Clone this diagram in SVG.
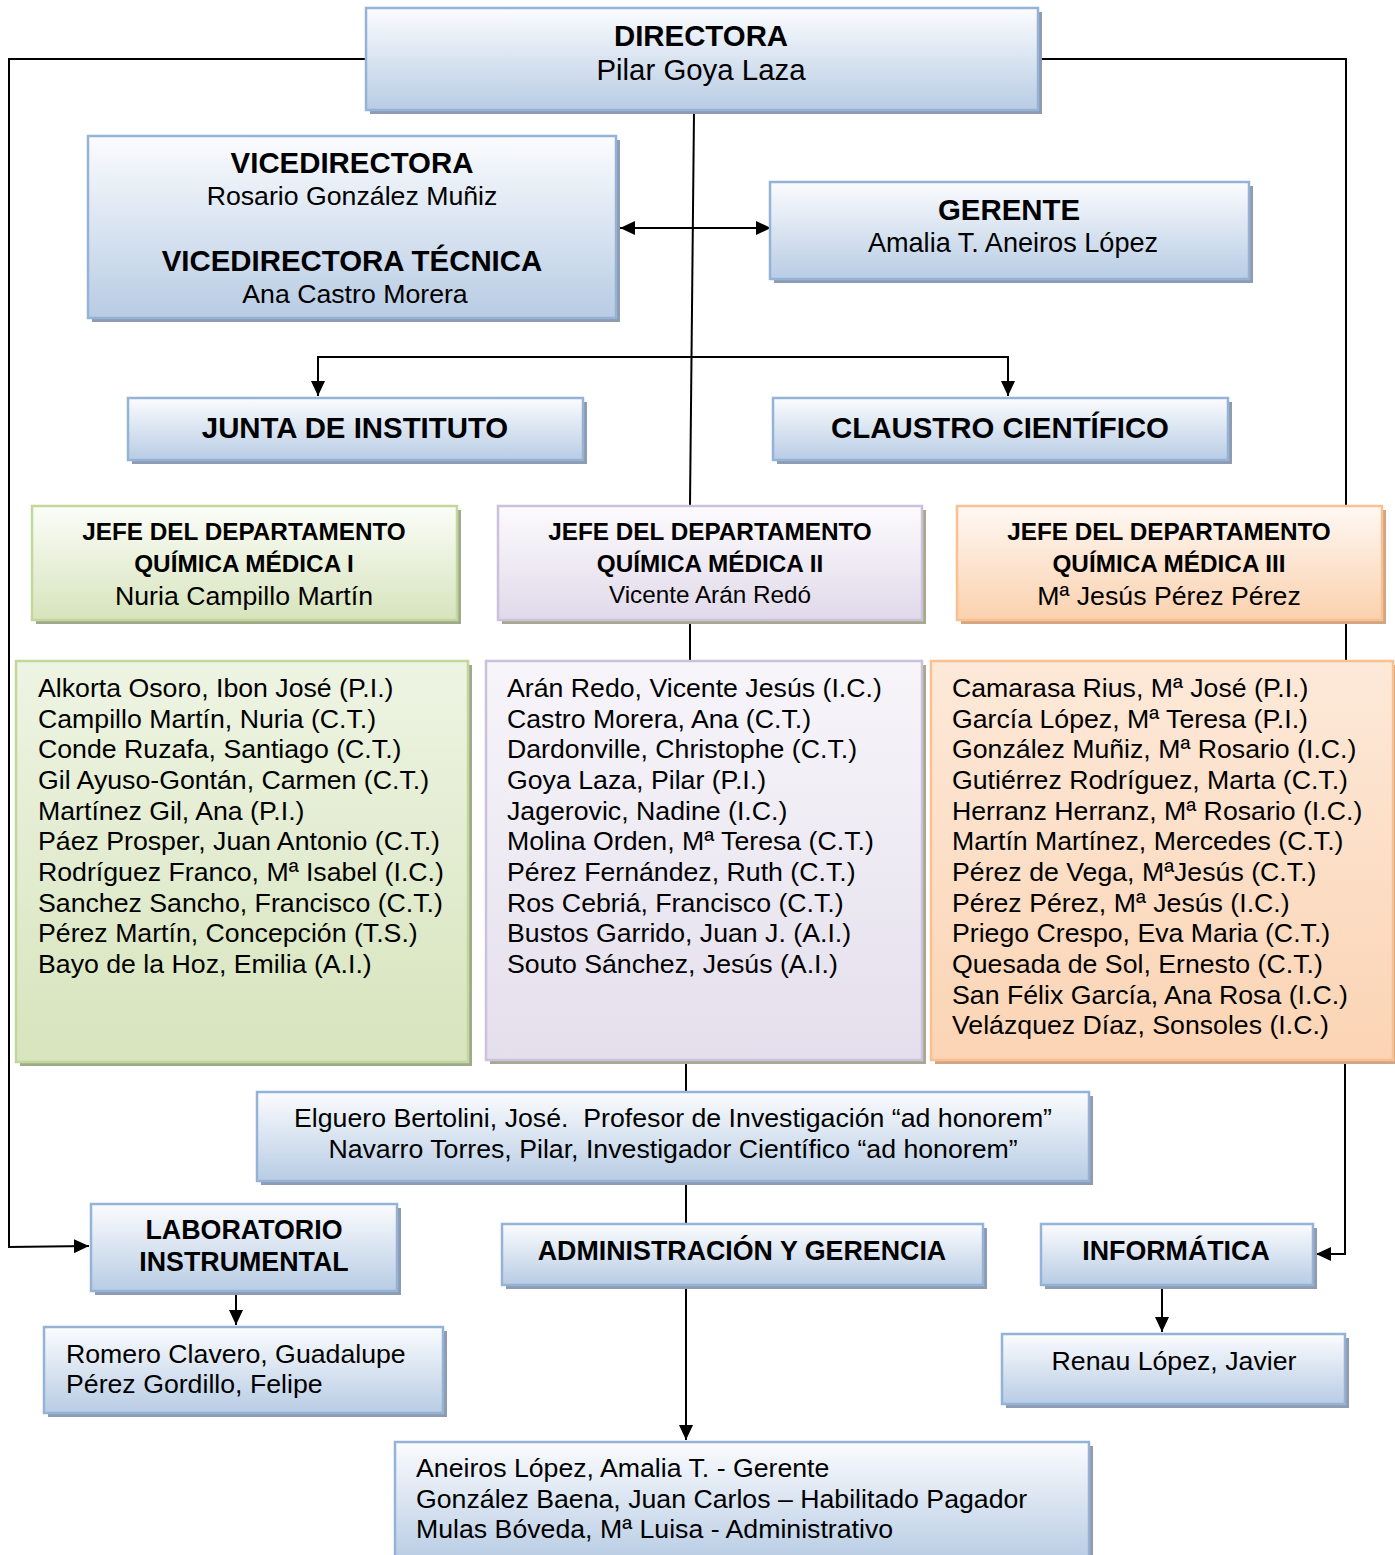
<svg xmlns="http://www.w3.org/2000/svg" width="1395" height="1555" viewBox="0 0 1395 1555">
<defs>
<linearGradient id="gBlue" x1="0" y1="0" x2="0" y2="1"><stop offset="0" stop-color="#fbfcfe"/><stop offset="1" stop-color="#b8cce4"/></linearGradient>
<linearGradient id="gGreen" x1="0" y1="0" x2="0" y2="1"><stop offset="0" stop-color="#fbfdf8"/><stop offset="1" stop-color="#d7e4bd"/></linearGradient>
<linearGradient id="gGreenL" x1="0" y1="0" x2="0" y2="1"><stop offset="0" stop-color="#eef4e3"/><stop offset="1" stop-color="#d7e4bd"/></linearGradient>
<linearGradient id="gPurple" x1="0" y1="0" x2="0" y2="1"><stop offset="0" stop-color="#fcfbfd"/><stop offset="1" stop-color="#e1d9ea"/></linearGradient>
<linearGradient id="gPurpleL" x1="0" y1="0" x2="0" y2="1"><stop offset="0" stop-color="#f7f5fa"/><stop offset="1" stop-color="#e4dfec"/></linearGradient>
<linearGradient id="gOrange" x1="0" y1="0" x2="0" y2="1"><stop offset="0" stop-color="#fef8f3"/><stop offset="1" stop-color="#fbd1ae"/></linearGradient>
<linearGradient id="gOrangeL" x1="0" y1="0" x2="0" y2="1"><stop offset="0" stop-color="#fde9d9"/><stop offset="1" stop-color="#fbd4b4"/></linearGradient>
<marker id="arr" markerUnits="userSpaceOnUse" markerWidth="16" markerHeight="14" refX="15" refY="7" orient="auto-start-reverse">
<path d="M0,0 L15,7 L0,14 z" fill="#000"/>
</marker>
</defs>
<style>
text{font-family:"Liberation Sans",Arial,sans-serif;fill:#000}
.b{font-weight:bold}
.c{text-anchor:middle}
.f29{font-size:29.4px}
.f27{font-size:26.8px}
.f26{font-size:26.7px}
.f24{font-size:24.3px}
.blue{fill:url(#gBlue);stroke:#95b3d7;stroke-width:2.5}
.sBlue{fill:#8e9bb0}
.green{fill:url(#gGreen);stroke:#c3d69b;stroke-width:2.5}
.greenL{fill:url(#gGreenL);stroke:#c3d69b;stroke-width:2.5}
.sGreen{fill:#a1a98d}
.purple{fill:url(#gPurple);stroke:#ccc1da;stroke-width:2.5}
.purpleL{fill:url(#gPurpleL);stroke:#ccc1da;stroke-width:2.5}
.sPurple{fill:#a7a88f}
.orange{fill:url(#gOrange);stroke:#fac090;stroke-width:2.5}
.orangeL{fill:url(#gOrangeL);stroke:#fac090;stroke-width:2.5}
.sOrange{fill:#d1a685}
.ln{fill:none;stroke:#000;stroke-width:2}
</style>

<g id="connectors">
<path class="ln" d="M694,112 L690,505"/>
<path class="ln" d="M690,622 V660"/>
<path class="ln" d="M686,1063 V1091"/>
<path class="ln" d="M686,1184 V1224"/>
<path class="ln" d="M686,1288 V1440" marker-end="url(#arr)"/>
<path class="ln" d="M620,228 H771" marker-start="url(#arr)" marker-end="url(#arr)"/>
<path class="ln" d="M318,396 V357 H1008 V396" marker-end="url(#arr)"/>
<path class="ln" d="M318,370 V396" marker-end="url(#arr)"/>
<path class="ln" d="M365,59 H9 V1247 L89,1246" marker-end="url(#arr)"/>
<path class="ln" d="M1040,59 H1346 V660"/>
<path class="ln" d="M1345,1063 V1254 H1316" marker-end="url(#arr)"/>
<path class="ln" d="M236,1291 V1325" marker-end="url(#arr)"/>
<path class="ln" d="M1162,1287 V1332" marker-end="url(#arr)"/>
</g>

<g id="directora">
<rect class="sBlue" x="370" y="12" width="672" height="102"/>
<rect class="blue" x="366" y="8" width="672" height="102"/>
<text class="b f29 c" x="701" y="46">DIRECTORA</text>
<text class="f29 c" x="701" y="80">Pilar Goya Laza</text>
</g>

<g id="vicedirectora">
<rect class="sBlue" x="92" y="140" width="528" height="182"/>
<rect class="blue" x="88" y="136" width="528" height="182"/>
<text class="b f29 c" x="352" y="173">VICEDIRECTORA</text>
<text class="f26 c" x="352" y="205">Rosario González Muñiz</text>
<text class="b f29 c" x="352" y="271">VICEDIRECTORA TÉCNICA</text>
<text class="f26 c" x="355" y="303">Ana Castro Morera</text>
</g>

<g id="gerente">
<rect class="sBlue" x="774" y="186" width="479" height="97"/>
<rect class="blue" x="770" y="182" width="479" height="97"/>
<text class="b f29 c" x="1009" y="220">GERENTE</text>
<text class="f26 c" x="1013" y="252" style="font-size:27.1px">Amalia T. Aneiros López</text>
</g>

<g id="junta">
<rect class="sBlue" x="132" y="402" width="455" height="62"/>
<rect class="blue" x="128" y="398" width="455" height="62"/>
<text class="b f29 c" x="355" y="438">JUNTA DE INSTITUTO</text>
</g>

<g id="claustro">
<rect class="sBlue" x="777" y="402" width="455" height="62"/>
<rect class="blue" x="773" y="398" width="455" height="62"/>
<text class="b f29 c" x="1000" y="438">CLAUSTRO CIENTÍFICO</text>
</g>

<g id="jefe-qm1">
<rect class="sGreen" x="36" y="510" width="425" height="114"/>
<rect class="green" x="32" y="506" width="425" height="114"/>
<text class="b f24 c" x="244" y="540">JEFE DEL DEPARTAMENTO</text>
<text class="b f24 c" x="244" y="572">QUÍMICA MÉDICA I</text>
<text class="f26 c" x="244" y="605">Nuria Campillo Martín</text>
</g>

<g id="jefe-qm2">
<rect class="sPurple" x="502" y="510" width="424" height="114"/>
<rect class="purple" x="498" y="506" width="424" height="114"/>
<text class="b f24 c" x="710" y="540">JEFE DEL DEPARTAMENTO</text>
<text class="b f24 c" x="710" y="572">QUÍMICA MÉDICA II</text>
<text class="f24 c" x="710" y="603">Vicente Arán Redó</text>
</g>

<g id="jefe-qm3">
<rect class="sOrange" x="961" y="510" width="425" height="114"/>
<rect class="orange" x="957" y="506" width="425" height="114"/>
<text class="b f24 c" x="1169" y="540">JEFE DEL DEPARTAMENTO</text>
<text class="b f24 c" x="1169" y="572">QUÍMICA MÉDICA III</text>
<text class="f26 c" x="1169" y="605">Mª Jesús Pérez Pérez</text>
</g>

<g id="lista-qm1">
<rect class="sGreen" x="20" y="665" width="452" height="401"/>
<rect class="greenL" x="16" y="661" width="452" height="401"/>
<text class="f26" x="38" y="697">Alkorta Osoro, Ibon José (P.I.)</text>
<text class="f26" x="38" y="727.7">Campillo Martín, Nuria (C.T.)</text>
<text class="f26" x="38" y="758.3">Conde Ruzafa, Santiago (C.T.)</text>
<text class="f26" x="38" y="789">Gil Ayuso-Gontán, Carmen (C.T.)</text>
<text class="f26" x="38" y="819.7">Martínez Gil, Ana (P.I.)</text>
<text class="f26" x="38" y="850.3">Páez Prosper, Juan Antonio (C.T.)</text>
<text class="f26" x="38" y="881">Rodríguez Franco, Mª Isabel (I.C.)</text>
<text class="f26" x="38" y="911.7">Sanchez Sancho, Francisco (C.T.)</text>
<text class="f26" x="38" y="942.3">Pérez Martín, Concepción (T.S.)</text>
<text class="f26" x="38" y="973">Bayo de la Hoz, Emilia (A.I.)</text>
</g>

<g id="lista-qm2">
<rect class="sPurple" x="490" y="665" width="436" height="399"/>
<rect class="purpleL" x="486" y="661" width="436" height="399"/>
<text class="f26" x="507" y="697">Arán Redo, Vicente Jesús (I.C.)</text>
<text class="f26" x="507" y="727.7">Castro Morera, Ana (C.T.)</text>
<text class="f26" x="507" y="758.3">Dardonville, Christophe (C.T.)</text>
<text class="f26" x="507" y="789">Goya Laza, Pilar (P.I.)</text>
<text class="f26" x="507" y="819.7">Jagerovic, Nadine (I.C.)</text>
<text class="f26" x="507" y="850.3">Molina Orden, Mª Teresa (C.T.)</text>
<text class="f26" x="507" y="881">Pérez Fernández, Ruth (C.T.)</text>
<text class="f26" x="507" y="911.7">Ros Cebriá, Francisco (C.T.)</text>
<text class="f26" x="507" y="942.3">Bustos Garrido, Juan J. (A.I.)</text>
<text class="f26" x="507" y="973">Souto Sánchez, Jesús (A.I.)</text>
</g>

<g id="lista-qm3">
<rect class="sOrange" x="935" y="665" width="462" height="399"/>
<rect class="orangeL" x="931" y="661" width="462" height="399"/>
<text class="f26" x="952" y="697">Camarasa Rius, Mª José (P.I.)</text>
<text class="f26" x="952" y="727.7">García López, Mª Teresa (P.I.)</text>
<text class="f26" x="952" y="758.3">González Muñiz, Mª Rosario (I.C.)</text>
<text class="f26" x="952" y="789">Gutiérrez Rodríguez, Marta (C.T.)</text>
<text class="f26" x="952" y="819.7">Herranz Herranz, Mª Rosario (I.C.)</text>
<text class="f26" x="952" y="850.3">Martín Martínez, Mercedes (C.T.)</text>
<text class="f26" x="952" y="881">Pérez de Vega, MªJesús (C.T.)</text>
<text class="f26" x="952" y="911.7">Pérez Pérez, Mª Jesús (I.C.)</text>
<text class="f26" x="952" y="942.3">Priego Crespo, Eva Maria (C.T.)</text>
<text class="f26" x="952" y="973">Quesada de Sol, Ernesto (C.T.)</text>
<text class="f26" x="952" y="1003.7">San Félix García, Ana Rosa (I.C.)</text>
<text class="f26" x="952" y="1034.3">Velázquez Díaz, Sonsoles (I.C.)</text>
</g>

<g id="ad-honorem">
<rect class="sBlue" x="261" y="1096" width="832" height="89"/>
<rect class="blue" x="257" y="1092" width="832" height="89"/>
<text class="f26 c" x="673" y="1127" xml:space="preserve">Elguero Bertolini, José.  Profesor de Investigación “ad honorem”</text>
<text class="f26 c" x="673" y="1158">Navarro Torres, Pilar, Investigador Científico “ad honorem”</text>
</g>

<g id="laboratorio">
<rect class="sBlue" x="95" y="1208" width="306" height="87"/>
<rect class="blue" x="91" y="1204" width="306" height="87"/>
<text class="b f27 c" x="244" y="1239">LABORATORIO</text>
<text class="b f27 c" x="244" y="1271">INSTRUMENTAL</text>
</g>

<g id="administracion">
<rect class="sBlue" x="506" y="1228" width="481" height="61"/>
<rect class="blue" x="502" y="1224" width="481" height="61"/>
<text class="b f27 c" x="742" y="1260">ADMINISTRACIÓN Y GERENCIA</text>
</g>

<g id="informatica">
<rect class="sBlue" x="1045" y="1228" width="272" height="61"/>
<rect class="blue" x="1041" y="1224" width="272" height="61"/>
<text class="b f27 c" x="1176" y="1260">INFORMÁTICA</text>
</g>

<g id="lab-personal">
<rect class="sBlue" x="48" y="1331" width="399" height="86"/>
<rect class="blue" x="44" y="1327" width="399" height="86"/>
<text class="f26" x="66" y="1363">Romero Clavero, Guadalupe</text>
<text class="f26" x="66" y="1393">Pérez Gordillo, Felipe</text>
</g>

<g id="informatica-personal">
<rect class="sBlue" x="1006" y="1338" width="343" height="70"/>
<rect class="blue" x="1002" y="1334" width="343" height="70"/>
<text class="f26 c" x="1174" y="1370">Renau López, Javier</text>
</g>

<g id="admin-personal">
<rect class="sBlue" x="399" y="1446" width="694" height="115"/>
<rect class="blue" x="395" y="1442" width="694" height="120"/>
<text class="f26" x="416" y="1477">Aneiros López, Amalia T. - Gerente</text>
<text class="f26" x="416" y="1508">González Baena, Juan Carlos – Habilitado Pagador</text>
<text class="f26" x="416" y="1538">Mulas Bóveda, Mª Luisa - Administrativo</text>
</g>
</svg>
